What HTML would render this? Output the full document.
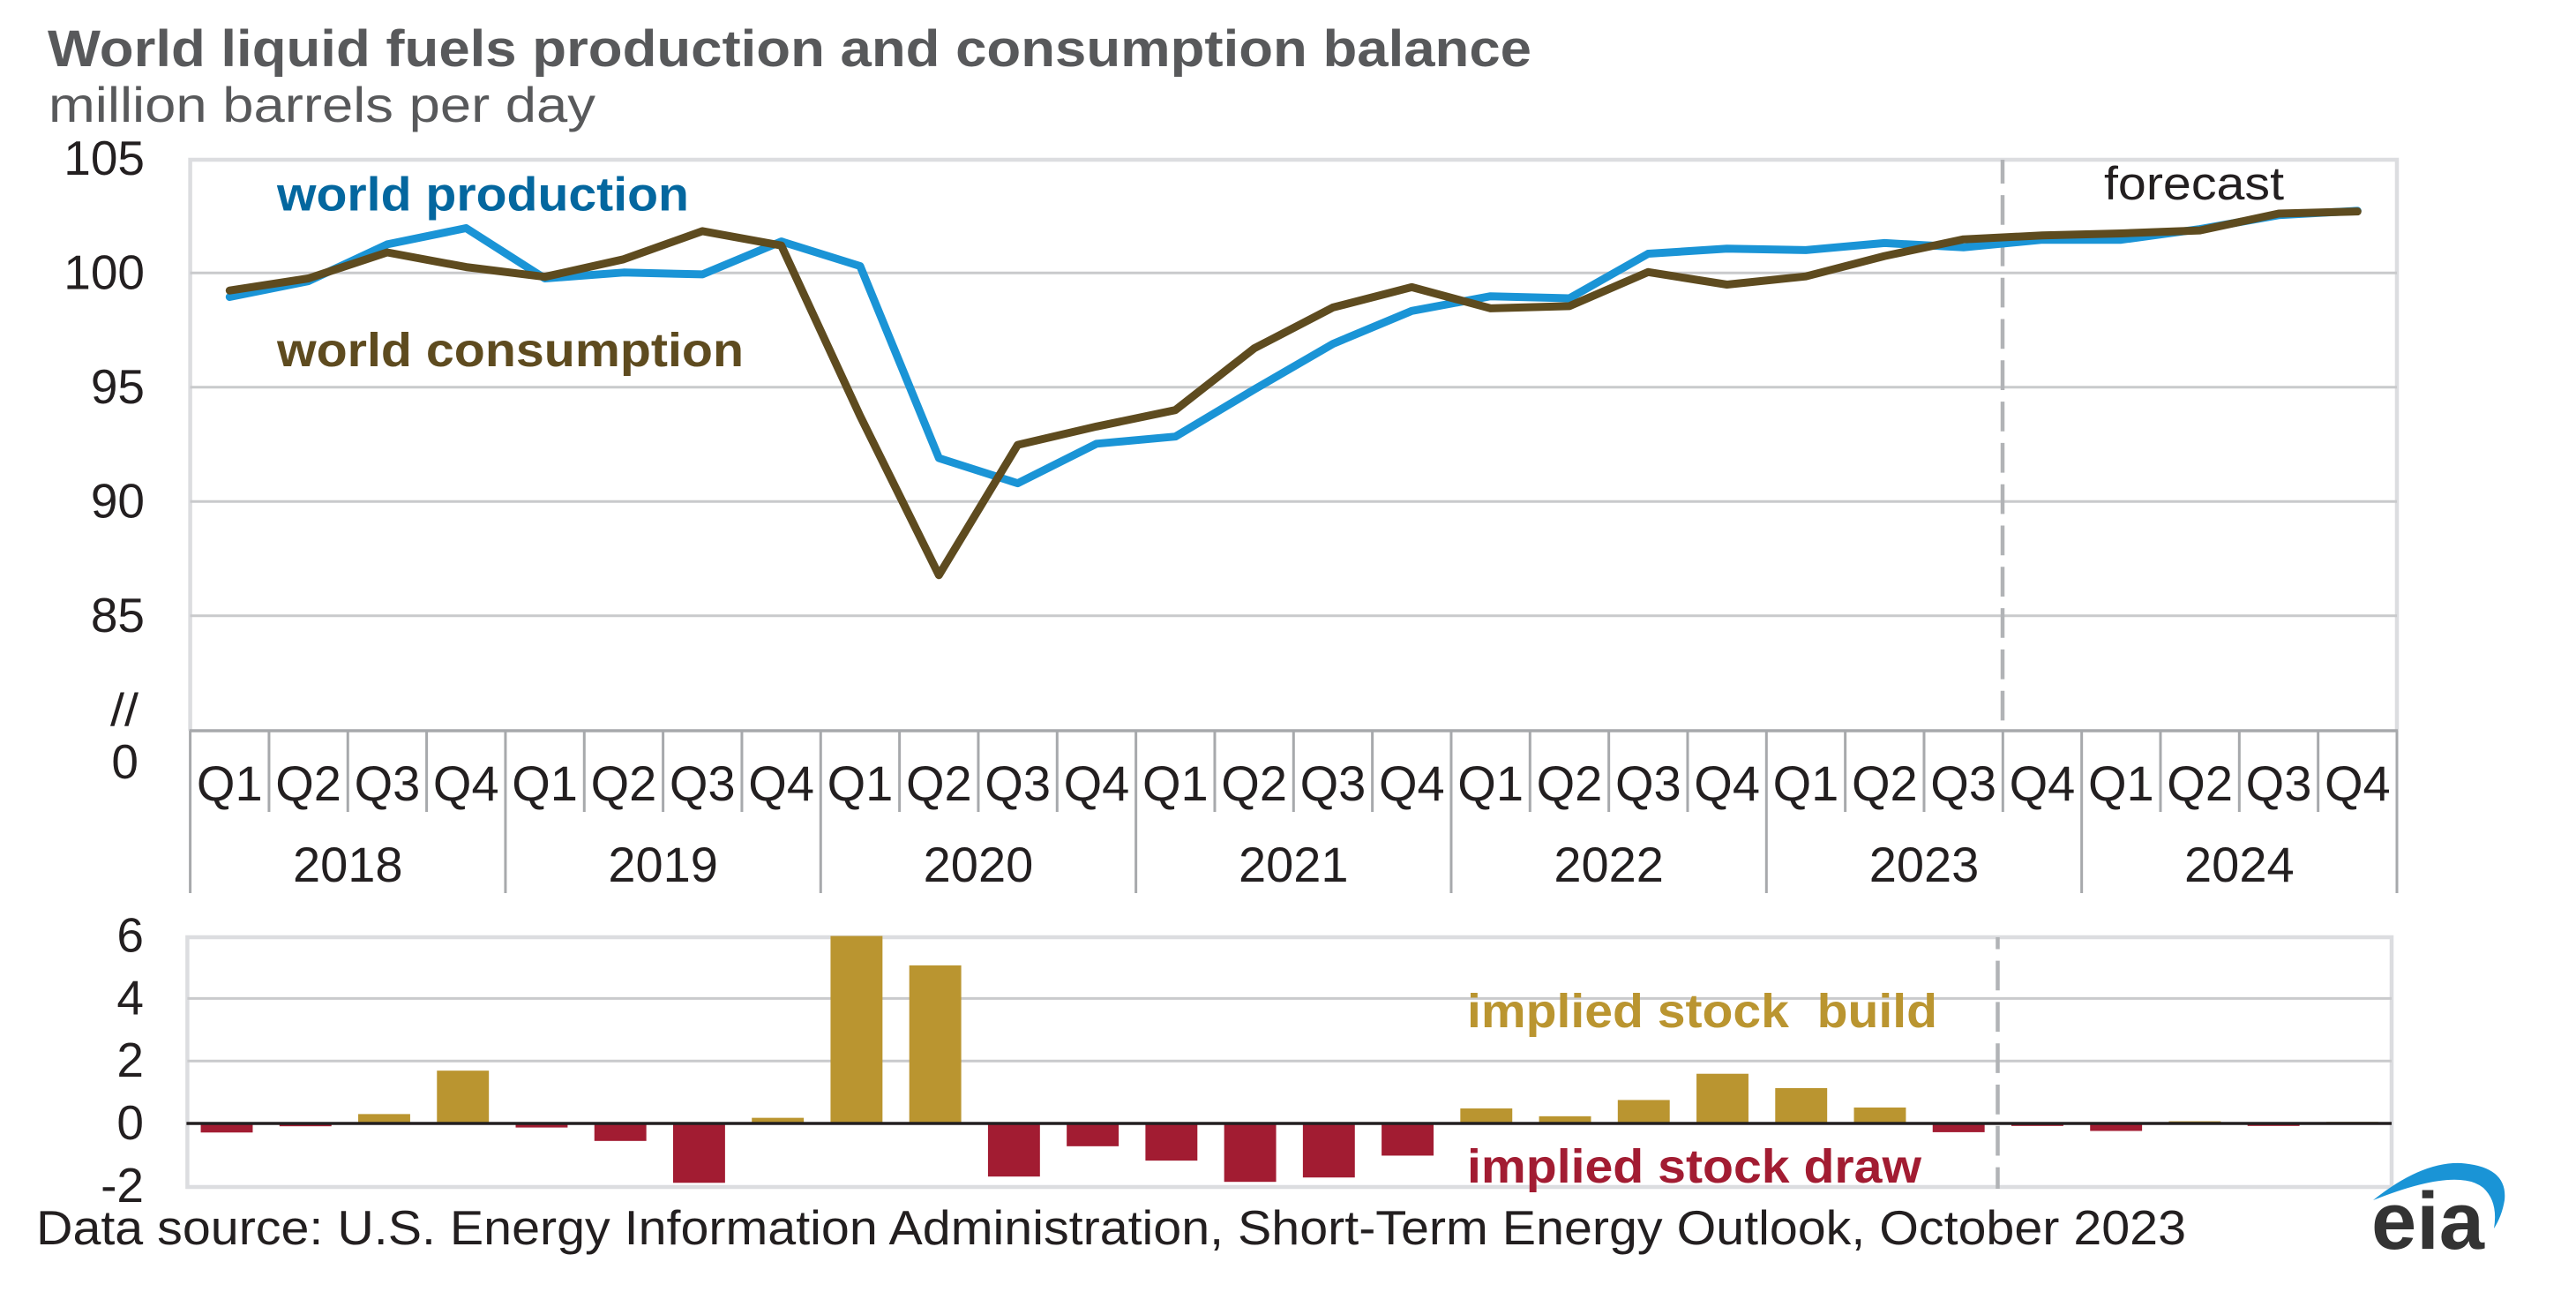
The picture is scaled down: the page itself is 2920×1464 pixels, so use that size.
<!DOCTYPE html>
<html lang="en">
<head>
<meta charset="utf-8">
<title>World liquid fuels production and consumption balance</title>
<style>
html,body{margin:0;padding:0;background:#fff;}
svg{display:block;}
text{font-family:"Liberation Sans",Arial,sans-serif;}
</style>
</head>
<body>
<svg id="chart" xmlns="http://www.w3.org/2000/svg" width="2920" height="1464" viewBox="0 0 2920 1464">
  <rect x="0" y="0" width="2920" height="1464" fill="#ffffff"/>
  <text x="54" y="75" font-size="58" font-weight="700" fill="#58595b" textLength="1682" lengthAdjust="spacingAndGlyphs">World liquid fuels production and consumption balance</text>
  <text x="55" y="138" font-size="56" fill="#58595b" textLength="620" lengthAdjust="spacingAndGlyphs">million barrels per day</text>
  <g id="main-grid"></g>
  <g id="main-axis"></g>
  <g id="main-y"></g>
  <text x="157" y="822" font-size="52" text-anchor="end" fill="#231f20" textLength="32" lengthAdjust="spacingAndGlyphs">//</text>
  <text x="157" y="882" font-size="55" text-anchor="end" fill="#231f20">0</text>
  <line x1="2270" y1="181" x2="2270" y2="828" stroke="#b1b3b6" stroke-width="4.5" stroke-dasharray="33.7 13.1" stroke-dashoffset="6.7"/>
  <g id="main-lines"></g>
  <text x="314" y="238.5" font-size="54" font-weight="700" fill="#04679f" textLength="467" lengthAdjust="spacingAndGlyphs">world production</text>
  <text x="314" y="415" font-size="54" font-weight="700" fill="#5e4b1f" textLength="529" lengthAdjust="spacingAndGlyphs">world consumption</text>
  <text x="2385" y="226" font-size="53" fill="#231f20" textLength="204" lengthAdjust="spacingAndGlyphs">forecast</text>
  <g id="lower-grid"></g>
  <g id="lower-y"></g>
  <g id="lower-bars"></g>
  <line id="lower-divider" x1="2264.5" y1="1062" x2="2264.5" y2="1347" stroke="#b1b3b6" stroke-width="4.5" stroke-dasharray="33.7 13.1" stroke-dashoffset="20.2"/>
  <text x="1663" y="1164" font-size="54" font-weight="700" fill="#ba9530" textLength="533" lengthAdjust="spacingAndGlyphs" style="white-space:pre">implied stock  build</text>
  <text x="1663" y="1340" font-size="54" font-weight="700" fill="#a21c32" textLength="515" lengthAdjust="spacingAndGlyphs">implied stock draw</text>
  <text x="41" y="1410" font-size="55" fill="#231f20" textLength="2437" lengthAdjust="spacingAndGlyphs">Data source: U.S. Energy Information Administration, Short-Term Energy Outlook, October 2023</text>
  <g>
    <path d="M2690,1360 Q2745,1316 2790,1318 Q2843,1322 2839,1360 Q2836,1378 2827,1392 Q2832,1362 2815,1346 Q2785,1322 2690,1360 Z" fill="#1a94d6"/>
    <text x="2688" y="1415" font-size="92" font-weight="700" fill="#333333" textLength="128" lengthAdjust="spacingAndGlyphs">eia</text>
  </g>
</svg>
<script>
const quarters = ["Q1","Q2","Q3","Q4"];
const years = ["2018","2019","2020","2021","2022","2023","2024"];
const mainTicks = [105,100,95,90,85];
const stockTicks = [6,4,2,0,-2];
const production = [98.95,99.64,101.25,101.96,99.76,100.02,99.94,101.38,100.3,91.9,90.8,92.53,92.84,94.9,96.9,98.34,98.98,98.89,100.84,101.06,101.0,101.31,101.12,101.45,101.45,101.92,102.53,102.72];
const consumption = [99.23,99.76,100.9,100.26,99.83,100.6,101.83,101.2,93.74,86.78,92.48,93.28,94.0,96.7,98.49,99.38,98.45,98.55,100.04,99.49,99.85,100.74,101.47,101.64,101.73,101.86,102.6,102.69];
const stockChange = [-0.29,-0.09,0.3,1.69,-0.13,-0.56,-1.9,0.18,6.0,5.06,-1.7,-0.73,-1.19,-1.87,-1.73,-1.03,0.48,0.23,0.75,1.59,1.13,0.51,-0.28,-0.08,-0.24,0.07,-0.08,0.05];

const NS = "http://www.w3.org/2000/svg";
const slotCount = years.length * quarters.length;
const M = {left:215.6, right:2717, top:181, y100:309.3, unit:25.9, axis:828};
const L = {left:212.4, right:2711, top:1062, zero:1273, unit:35.4, bottom:1345};
const mainSlot = (M.right - M.left) / slotCount;
const lowSlot = (L.right - L.left) / slotCount;
const xMain = i => M.left + mainSlot * (i + 0.5);
const xLow = i => L.left + lowSlot * (i + 0.5);
const yMain = v => M.y100 - (v - 100) * M.unit;
const yLow = v => L.zero - v * L.unit;

function svgEl(tag, attrs, parent) {
  const el = document.createElementNS(NS, tag);
  for (const k in attrs) el.setAttribute(k, attrs[k]);
  parent.appendChild(el);
  return el;
}
const mainGrid = document.getElementById("main-grid");
const mainAxis = document.getElementById("main-axis");
const mainY = document.getElementById("main-y");
const mainLines = document.getElementById("main-lines");
const lowerGrid = document.getElementById("lower-grid");
const lowerY = document.getElementById("lower-y");
const lowerBars = document.getElementById("lower-bars");

/* main plot frame and grid */
let el = svgEl("path", {d:`M${M.left} ${M.axis}V${M.top}H${M.right}V${M.axis}`, fill:"none", stroke:"#dcdde0", "stroke-width":4.5}, mainGrid);


mainTicks.forEach(t => {
  if (t !== 105) {
    const g = svgEl("line", {x1:M.left, x2:M.right, y1:yMain(t), y2:yMain(t), stroke:"#c9cacc", "stroke-width":3}, mainGrid);
    
    
  }
  const lab = svgEl("text", {x:164, y:yMain(t)+18, "font-size":55, "text-anchor":"end", fill:"#231f20"}, mainY);
  
  
  lab.textContent = t;
});

/* x axis */
el = svgEl("line", {x1:M.left-1, x2:M.right+1, y1:M.axis, y2:M.axis, stroke:"#a7a9ac", "stroke-width":3.5}, mainAxis);


for (let i = 0; i <= slotCount; i++) {
  const isYear = i % quarters.length === 0;
  const tx = M.left + mainSlot * i;
  const tick = svgEl("line", {x1:tx, x2:tx, y1:M.axis, y2:isYear ? 1012 : 920, stroke:"#a7a9ac", "stroke-width":3}, mainAxis);
  
  
  if (i < slotCount) {
    const q = svgEl("text", {x:xMain(i), y:907, "font-size":56, "text-anchor":"middle", fill:"#231f20"}, mainAxis);
    
    
    q.textContent = quarters[i % quarters.length];
  }
}
years.forEach((yr, j) => {
  const n = quarters.length;
  const lab = svgEl("text", {x:M.left + mainSlot * n * (j + 0.5), y:999, "font-size":56, "text-anchor":"middle", fill:"#231f20"}, mainAxis);
  
  
  lab.textContent = yr;
});

/* series lines */
const toPoints = arr => arr.map((v, i) => xMain(i).toFixed(1) + "," + yMain(v).toFixed(1)).join(" ");
const prodLine = svgEl("polyline", {points:toPoints(production), fill:"none", stroke:"#1a94d6", "stroke-width":9, "stroke-linejoin":"round", "stroke-linecap":"round"}, mainLines);


const consLine = svgEl("polyline", {points:toPoints(consumption), fill:"none", stroke:"#5e4b1f", "stroke-width":9, "stroke-linejoin":"round", "stroke-linecap":"round"}, mainLines);



/* lower plot */
el = svgEl("rect", {x:L.left, y:L.top, width:L.right-L.left, height:L.bottom-L.top, fill:"none", stroke:"#dcdde0", "stroke-width":4.5}, lowerGrid);


stockTicks.forEach(t => {
  if (t === 4 || t === 2) {
    const g = svgEl("line", {x1:L.left, x2:L.right, y1:yLow(t), y2:yLow(t), stroke:"#c9cacc", "stroke-width":3}, lowerGrid);
    
    
  }
  const lab = svgEl("text", {x:163, y:yLow(t)+18, "font-size":55, "text-anchor":"end", fill:"#231f20"}, lowerY);
  
  
  lab.textContent = t;
});
stockChange.forEach((v, i) => {
  const w = lowSlot * 0.66;
  const b = svgEl("rect", {x:xLow(i)-w/2, y:Math.min(yLow(v), L.zero), width:w, height:Math.abs(yLow(v)-L.zero), fill: v >= 0 ? "#ba9530" : "#a21c32"}, lowerBars);
  
  
});
el = svgEl("line", {x1:L.left-1, x2:L.right, y1:L.zero, y2:L.zero, stroke:"#231f20", "stroke-width":3.5}, lowerBars);


</script>
</body>
</html>
